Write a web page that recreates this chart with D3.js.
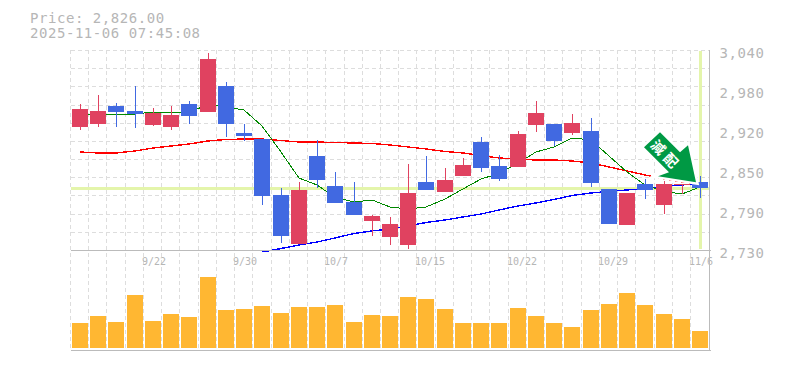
<!DOCTYPE html>
<html><head><meta charset="utf-8">
<style>
html,body{margin:0;padding:0;background:#fff;overflow:hidden}
svg{display:block}
text{font-family:"DejaVu Sans Mono",monospace;fill:#b6b6b6}
</style>
<script src="https://cdn.jsdelivr.net/npm/d3@7/dist/d3.min.js"></script>
</head><body><svg id="c" width="785" height="370"></svg>
<script>
const headerLines = ["Price: 2,826.00","2025-11-06 07:45:08"];
const openP  = [2921,2925,2953,2945,2924,2921,2956,2944,2984,2911,2902,2815,2739,2876,2829,2804,2775,2750,2738,2835,2820,2845,2897,2860,2859,2924,2925,2911,2914,2825,2769,2832,2800,2831,2835];
const closeP = [2949,2945,2944,2941,2942,2939,2938,3026,2925,2907,2814,2752,2823,2839,2803,2784,2783,2770,2818,2823,2839,2862,2857,2840,2910,2942,2899,2927,2834,2770,2818,2823,2832,2832,2826];
const highP  = [2956,2970,2958,2984,2950,2953,2961,3035,2990,2925,2902,2826,2835,2901,2851,2835,2784,2781,2863,2876,2857,2873,2905,2877,2914,2961,2925,2941,2935,2825,2818,2840,2837,2832,2845];
const lowP   = [2916,2921,2921,2919,2922,2916,2925,2944,2905,2899,2800,2741,2739,2826,2803,2784,2752,2738,2732,2823,2820,2845,2851,2837,2859,2913,2891,2908,2828,2770,2769,2809,2786,2817,2811];
const volume = [75,96,78,159,81,102,93,213,114,117,126,105,123,123,129,78,99,96,153,147,117,75,75,75,120,96,75,63,114,132,165,129,102,87,51];
const maGreen = [2940.8,2940.8,2940.8,2940.8,2943.9,2942.4,2942.4,2956.3,2951.7,2947,2922.2,2881.9,2841.6,2830.8,2811.4,2804.4,2807.5,2796.7,2793.6,2796.7,2809,2824.6,2840,2848.6,2864.9,2881.9,2889.7,2903.6,2900.5,2875.7,2850.9,2830.8,2820.7,2816.8,2827.7];
const maRed = [2881.9,2880.4,2880.4,2883.5,2888.1,2891.2,2894.3,2899,2901.3,2902,2902,2899.7,2897.4,2897.4,2896.6,2895.9,2895.1,2892.8,2889.7,2886.6,2882.7,2880.4,2876.5,2872.6,2871,2869.5,2869.5,2868,2864.9,2858.7,2852.5,2846.3,2840,2835.4,2832.3];
const maBlue = [null,null,null,null,null,null,null,null,null,null,2726.9,2732.3,2737.8,2742.4,2748.6,2755.6,2759.5,2762.6,2767.2,2772.6,2776.5,2781.2,2785.8,2792,2798.2,2802.9,2808.3,2814.5,2818.4,2820.7,2823,2825.3,2828.4,2830.8,2833.1];
const dateIdx = [4,9,14,19,24,29,34];
const dateLabels = ["9/22","9/30","10/7","10/15","10/22","10/29","11/6"];
const priceTicks = [3040,2978,2916,2854,2792,2730];
const priceLabels = ["3,040","2,980","2,920","2,850","2,790","2,730"];
const lastPrice = 2826;
const arrowLabel = "減配";

const svg = d3.select("#c");
const n = openP.length;
const xL = d3.scaleLinear().domain([0,n-1]).range([72,692]);
const left = i => Math.round(xL(i));
const cx = i => left(i)+8;
const y = d3.scaleLinear().domain([2730,3040]).range([250,50]);
const yV = d3.scaleLinear().domain([0,300]).range([348,248]);
const R = 710;

// grid
const grid = svg.append("g").attr("stroke","#ddd").attr("stroke-dasharray","4 3").attr("shape-rendering","crispEdges");
grid.selectAll("line.v").data(d3.range(n)).join("line")
  .attr("x1",i=>left(i)-1.5).attr("x2",i=>left(i)-1.5).attr("y1",50).attr("y2",350);
grid.selectAll("line.h").data(d3.range(0,12)).join("line")
  .attr("x1",71).attr("x2",R)
  .attr("y1",j=>Math.round(y(3040-j*310/11))+.5).attr("y2",j=>Math.round(y(3040-j*310/11))+.5);

// highlight
const hl = svg.append("g").attr("fill","#e4f5ab");
hl.append("rect").attr("x",71).attr("width",R-71).attr("y",Math.round(y(lastPrice))-1).attr("height",3);
hl.append("rect").attr("x",cx(n-1)-1).attr("width",3).attr("y",51).attr("height",198);

// moving averages
const defs = svg.append("defs");
defs.append("clipPath").attr("id","pc").append("rect").attr("x",71).attr("y",50).attr("width",640).attr("height",202);
const line = d3.line().defined(d=>d!=null).x((d,i)=>cx(i)).y(d=>y(d));
const ma = svg.append("g").attr("fill","none").attr("clip-path","url(#pc)").attr("shape-rendering","crispEdges");
ma.append("path").attr("d",line(maRed)).attr("stroke","#f00").attr("stroke-width",1.4);
ma.append("path").attr("d",line(maBlue)).attr("stroke","#00f").attr("stroke-width",1.4);
ma.append("path").attr("d",line(maGreen)).attr("stroke","#080").attr("stroke-width",1);

// candles
const colorOf = i => closeP[i]>=openP[i] ? "#e04260" : "#4169e1";
const cg = svg.append("g").attr("shape-rendering","crispEdges");
cg.selectAll("line").data(d3.range(n)).join("line")
  .attr("x1",i=>cx(i)+.5).attr("x2",i=>cx(i)+.5)
  .attr("y1",i=>Math.round(y(highP[i]))).attr("y2",i=>Math.round(y(lowP[i])))
  .attr("stroke",colorOf);
cg.selectAll("rect").data(d3.range(n)).join("rect")
  .attr("x",left).attr("width",16)
  .attr("y",i=>Math.round(y(Math.max(openP[i],closeP[i]))))
  .attr("height",i=>Math.max(1,Math.round(y(Math.min(openP[i],closeP[i])))-Math.round(y(Math.max(openP[i],closeP[i])))))
  .attr("fill",colorOf);

// volume
svg.append("g").attr("shape-rendering","crispEdges").selectAll("rect").data(volume).join("rect")
  .attr("x",(d,i)=>left(i)).attr("width",16)
  .attr("y",d=>yV(d)).attr("height",d=>yV(0)-yV(d)).attr("fill","#ffb732");

// tick labels
const xPos = d3.scaleOrdinal().domain(dateLabels).range(dateIdx.map(i=>cx(i)-11));
const xAxis = d3.axisBottom(d3.scalePoint().domain(dateLabels).range([0,1])).tickSize(0);
const gx = svg.append("g").attr("transform","translate(0,250)").call(xAxis);
gx.select(".domain").remove();
gx.selectAll(".tick").attr("transform",d=>`translate(${xPos(d)},0)`);
gx.selectAll("text").attr("text-anchor","start").attr("x",0).attr("y",15).attr("dy",0)
  .style("font-family",'"DejaVu Sans Mono",monospace').style("font-size","10px").style("fill","#b6b6b6");

const yAxis = d3.axisRight(y).tickValues(priceTicks).tickFormat((d,i)=>priceLabels[i]).tickSize(0);
const gy = svg.append("g").attr("transform","translate(719.5,0)").call(yAxis);
gy.select(".domain").remove();
gy.selectAll("text").attr("x",0).attr("y",7.5).attr("dy",0)
  .style("font-family",'"DejaVu Sans Mono",monospace').style("font-size","14px").style("letter-spacing","0.55px").style("fill","#b6b6b6");

// frame
const fr = svg.append("g").attr("stroke","#bbb").attr("shape-rendering","crispEdges");
fr.append("line").attr("x1",71).attr("x2",711).attr("y1",250.5).attr("y2",250.5);
fr.append("line").attr("x1",71).attr("x2",711).attr("y1",350.5).attr("y2",350.5);
fr.append("line").attr("x1",709.5).attr("x2",709.5).attr("y1",50).attr("y2",351);

// header
svg.append("g").selectAll("text").data(headerLines).join("text")
  .attr("x",30).attr("y",(d,i)=>23+15*i)
  .style("font-size","14px").style("letter-spacing","0.55px").text(d=>d);

// arrow annotation
const ax = cx(n-1)-4, ay = y(2835);
const arrow = svg.append("g").attr("transform",`translate(${ax},${ay})`);
arrow.append("polygon")
  .attr("points","-36,-50 -52,-35 -27,-10 -38,-6 0,0 -8,-37 -16,-30")
  .attr("fill","#009944").attr("stroke","#fff").attr("stroke-width",5)
  .style("paint-order","stroke").attr("stroke-linejoin","miter");
arrow.append("text").attr("transform","translate(-29.5,-27.5) rotate(46)")
  .attr("text-anchor","middle").attr("dominant-baseline","central")
  .style("font-family",'"Noto Sans CJK JP"').style("font-weight","700").style("font-size","14px")
  .style("letter-spacing","4px").style("fill","#fff").text(arrowLabel);
</script></body></html>
